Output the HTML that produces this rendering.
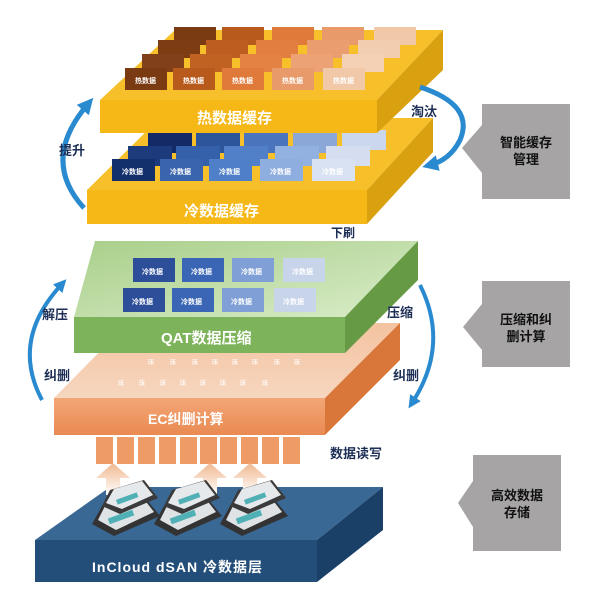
<!DOCTYPE html>
<html><head><meta charset="utf-8"><style>
html,body{margin:0;padding:0;background:#fff;width:600px;height:604px;overflow:hidden}
svg{display:block}
text{font-family:"Liberation Sans","Noto Sans CJK SC",sans-serif;font-weight:bold}
</style></head><body>
<svg width="600" height="604" viewBox="0 0 600 604" xmlns="http://www.w3.org/2000/svg">
<defs>
<linearGradient id="gr" x1="0" y1="0" x2="1" y2="1"><stop offset="0" stop-color="#a9cf8a"/><stop offset="1" stop-color="#d9ecc8"/></linearGradient>
<linearGradient id="og" x1="0" y1="0" x2="0" y2="1"><stop offset="0" stop-color="#f4c3a0"/><stop offset="1" stop-color="#f6d6bf"/></linearGradient>
<linearGradient id="ogf" x1="0" y1="0" x2="0" y2="1"><stop offset="0" stop-color="#f3a676"/><stop offset="1" stop-color="#e98a52"/></linearGradient>
<linearGradient id="ar" x1="0" y1="1" x2="0" y2="0"><stop offset="0" stop-color="#fff"/><stop offset="1" stop-color="#f0b890"/></linearGradient>
<marker id="ah" markerWidth="3.2" markerHeight="3.2" refX="1.6" refY="1.6" orient="auto" markerUnits="strokeWidth"><path d="M0,0 L3.2,1.6 L0,3.2 z" fill="#2a8ad0"/></marker>
<marker id="ahs" markerWidth="3.2" markerHeight="3.2" refX="1.6" refY="1.6" orient="auto-start-reverse" markerUnits="strokeWidth"><path d="M0,0 L3.2,1.6 L0,3.2 z" fill="#2a8ad0"/></marker>
<g id="disk"><polygon points="10,16 50,4 68,26 22,46 0,34" fill="#333"/><polygon points="14,14 48,4 62,22 24,40 6,30" fill="#dfe3e6"/><rect x="16" y="24" width="26" height="6" fill="#4fb0b5" transform="rotate(-20 29 27)"/><polygon points="18,0 52,-10 66,8 28,24 10,16" fill="#3a3a3a"/><polygon points="22,-1 50,-9 61,5 30,19 14,13" fill="#e6e9ec"/><rect x="24" y="6" width="22" height="5" fill="#4fb0b5" transform="rotate(-20 35 8)"/></g>
</defs>

<!-- Cold cache slab -->
<polygon points="160,118 433,118 367,190 87,190" fill="#f7c02a"/>
<polygon points="87,190 367,190 367,224 87,224" fill="#f5b817"/>
<polygon points="367,190 433,118 433,152 367,224" fill="#d9a010"/>
<g>
 <rect x="148" y="133" width="44" height="20" fill="#142a66"/><rect x="196" y="133" width="44" height="20" fill="#2d559c"/><rect x="244" y="133" width="44" height="20" fill="#4a74bb"/><rect x="293" y="133" width="44" height="20" fill="#8aa7d8"/><rect x="342" y="130" width="44" height="20" fill="#cbd7ec"/>
 <rect x="128" y="146" width="44" height="20" fill="#1c3a7c"/><rect x="176" y="146" width="44" height="20" fill="#3461aa"/><rect x="224" y="146" width="44" height="20" fill="#5180c8"/><rect x="275" y="146" width="44" height="20" fill="#92b0e0"/><rect x="326" y="146" width="44" height="20" fill="#d4def0"/>
 <rect x="112" y="159" width="43" height="22" fill="#14306c"/><rect x="160" y="159" width="43" height="22" fill="#3a64ad"/><rect x="209" y="159" width="43" height="22" fill="#4f7fc8"/><rect x="260" y="159" width="43" height="22" fill="#8eaee0"/><rect x="312" y="159" width="43" height="22" fill="#d8e2f2"/>
 <g fill="#fff" font-size="7"><text x="122" y="174">冷数据</text><text x="170" y="174">冷数据</text><text x="219" y="174">冷数据</text><text x="270" y="174">冷数据</text><text x="322" y="174">冷数据</text></g>
</g>
<text x="184" y="216" font-size="15" fill="#fff">冷数据缓存</text>

<!-- Hot cache slab -->
<polygon points="175,30 443,30 377,100 100,100" fill="#f7c02a"/>
<polygon points="100,100 377,100 377,133 100,133" fill="#f5b817"/>
<polygon points="377,100 443,30 443,70 377,133" fill="#d9a010"/>
<g>
 <rect x="174" y="27" width="42" height="18" fill="#7a3a12"/><rect x="222" y="27" width="42" height="18" fill="#b85a1c"/><rect x="272" y="27" width="42" height="18" fill="#e07a3a"/><rect x="322" y="27" width="42" height="18" fill="#e89a6a"/><rect x="374" y="27" width="42" height="18" fill="#f2c9a8"/>
 <rect x="158" y="40" width="42" height="18" fill="#7e3c12"/><rect x="206" y="40" width="42" height="18" fill="#bd5e20"/><rect x="256" y="40" width="42" height="18" fill="#e27e40"/><rect x="307" y="40" width="42" height="18" fill="#ea9e70"/><rect x="358" y="40" width="42" height="18" fill="#f2cdb0"/>
 <rect x="142" y="54" width="42" height="18" fill="#82401a"/><rect x="190" y="54" width="42" height="18" fill="#c06222"/><rect x="240" y="54" width="42" height="18" fill="#e48244"/><rect x="291" y="54" width="42" height="18" fill="#eca274"/><rect x="342" y="54" width="42" height="18" fill="#f4d0b4"/>
 <rect x="125" y="68" width="42" height="22" fill="#7a3a12"/><rect x="173" y="68" width="42" height="22" fill="#b85a1c"/><rect x="222" y="68" width="42" height="22" fill="#e07a3a"/><rect x="272" y="68" width="42" height="22" fill="#e89a6a"/><rect x="323" y="68" width="42" height="22" fill="#f2c9a8"/>
 <g fill="#fff" font-size="7"><text x="135" y="83">热数据</text><text x="183" y="83">热数据</text><text x="232" y="83">热数据</text><text x="282" y="83">热数据</text><text x="333" y="83">热数据</text></g>
</g>
<text x="197" y="123" font-size="15" fill="#fff">热数据缓存</text>

<!-- left arc 提升 -->
<path d="M84,208 Q40,160 88,104" fill="none" stroke="#2a8ad0" stroke-width="5" marker-end="url(#ah)"/>
<text x="59" y="155" font-size="13" fill="#1c2e55">提升</text>
<!-- right arc 淘汰 -->
<path d="M420,87 Q475,105 460,140 Q450,160 430,165" fill="none" stroke="#2a8ad0" stroke-width="5" marker-end="url(#ah)"/>
<text x="411" y="116" font-size="13" fill="#1c2e55">淘汰</text>
<text x="331" y="237" font-size="12" fill="#1c2e55">下刷</text>

<!-- Orange EC slab -->
<polygon points="128,323 400,323 325,398 54,398" fill="url(#og)"/>
<polygon points="54,398 325,398 325,435 54,435" fill="url(#ogf)"/>
<polygon points="325,398 400,323 400,360 325,435" fill="#d9763a"/>
<g fill="#fff" font-size="6" opacity="0.9">
 <text x="148" y="364">压</text><text x="170" y="364">压</text><text x="192" y="364">压</text><text x="212" y="364">压</text><text x="232" y="364">压</text><text x="252" y="364">压</text><text x="274" y="364">压</text><text x="294" y="364">压</text>
 <text x="118" y="385">压</text><text x="139" y="385">压</text><text x="160" y="385">压</text><text x="180" y="385">压</text><text x="200" y="385">压</text><text x="220" y="385">压</text><text x="240" y="385">压</text><text x="262" y="385">压</text>
</g>
<text x="148" y="424" font-size="14" fill="#fff">EC纠删计算</text>

<!-- Green QAT slab -->
<polygon points="95,241 418,241 345,317 74,317" fill="url(#gr)"/>
<polygon points="74,317 345,317 345,353 74,353" fill="#7db35a"/>
<polygon points="345,317 418,241 418,280 345,353" fill="#669a45"/>
<g>
 <rect x="133" y="258" width="42" height="24" fill="#2d4f9a"/><rect x="182" y="258" width="42" height="24" fill="#3a66b5"/><rect x="232" y="258" width="42" height="24" fill="#7f9fd6"/><rect x="283" y="258" width="42" height="24" fill="#c8d4ea"/>
 <rect x="123" y="288" width="42" height="24" fill="#2d4f9a"/><rect x="172" y="288" width="42" height="24" fill="#3a66b5"/><rect x="222" y="288" width="42" height="24" fill="#7f9fd6"/><rect x="274" y="288" width="42" height="24" fill="#c8d4ea"/>
 <g fill="#fff" font-size="7"><text x="142" y="274">冷数据</text><text x="191" y="274">冷数据</text><text x="241" y="274">冷数据</text><text x="292" y="274">冷数据</text><text x="132" y="304">冷数据</text><text x="181" y="304">冷数据</text><text x="231" y="304">冷数据</text><text x="283" y="304">冷数据</text></g>
</g>
<text x="161" y="343" font-size="15" fill="#fff">QAT数据压缩</text>

<!-- arcs lower -->
<path d="M62,284 Q10,340 42,400" fill="none" stroke="#2a8ad0" stroke-width="4" marker-start="url(#ahs)"/>
<path d="M420,285 Q450,345 412,403" fill="none" stroke="#2a8ad0" stroke-width="4" marker-end="url(#ah)"/>
<text x="42" y="319" font-size="13" fill="#1c2e55">解压</text>
<text x="387" y="317" font-size="13" fill="#1c2e55">压缩</text>
<text x="44" y="380" font-size="13" fill="#1c2e55">纠删</text>
<text x="393" y="380" font-size="13" fill="#1c2e55">纠删</text>

<!-- slots -->
<g fill="#ef9b66">
 <rect x="96" y="437" width="17" height="27"/><rect x="117" y="437" width="17" height="27"/><rect x="138" y="437" width="17" height="27"/><rect x="159" y="437" width="17" height="27"/><rect x="180" y="437" width="17" height="27"/><rect x="200" y="437" width="17" height="27"/><rect x="220" y="437" width="17" height="27"/><rect x="241" y="437" width="17" height="27"/><rect x="262" y="437" width="17" height="27"/><rect x="283" y="437" width="17" height="27"/>
</g>
<text x="330" y="458" font-size="13" fill="#1c2e55">数据读写</text>

<!-- Blue base slab -->
<polygon points="110,487 383,487 317,540 35,540" fill="#3a6894"/>
<polygon points="35,540 317,540 317,582 35,582" fill="#234e7a"/>
<polygon points="317,540 383,487 383,530 317,582" fill="#1a4068"/>
<!-- up arrows -->
<g fill="url(#ar)">
 <polygon points="106,495 120,495 120,478 130,478 113,463 96,478 106,478"/>
 <polygon points="203,495 217,495 217,478 227,478 210,463 193,478 203,478"/>
 <polygon points="243,495 257,495 257,478 267,478 250,463 233,478 243,478"/>
</g>
<use href="#disk" x="92" y="490"/>
<use href="#disk" x="154" y="490"/>
<use href="#disk" x="220" y="490"/>
<text x="92" y="572" font-size="14" fill="#fff" letter-spacing="1">InCloud dSAN 冷数据层</text>

<!-- right gray boxes -->
<polygon points="482,104 570,104 570,199 482,199 482,173 462,148 482,125" fill="#a6a4a4"/>
<text x="526" y="147" font-size="13" fill="#111" text-anchor="middle">智能缓存</text>
<text x="526" y="164" font-size="13" fill="#111" text-anchor="middle">管理</text>
<polygon points="482,281 570,281 570,367 482,367 482,350 463,327 482,304" fill="#a6a4a4"/>
<text x="526" y="324" font-size="13" fill="#111" text-anchor="middle">压缩和纠</text>
<text x="526" y="341" font-size="13" fill="#111" text-anchor="middle">删计算</text>
<polygon points="473,455 561,455 561,551 473,551 473,527 458,503 473,481" fill="#a6a4a4"/>
<text x="517" y="500" font-size="13" fill="#111" text-anchor="middle">高效数据</text>
<text x="517" y="517" font-size="13" fill="#111" text-anchor="middle">存储</text>
</svg>
</body></html>
